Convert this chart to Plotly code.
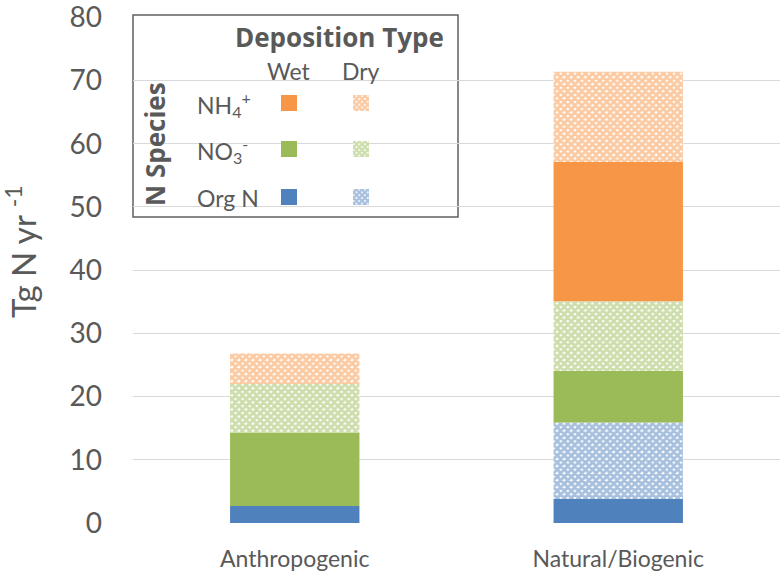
import plotly.graph_objects as go
import numpy as np

# ---------------- data ----------------
categories = ["Anthropogenic", "Natural/Biogenic"]
orgn_wet = [2.7, 3.8]
orgn_dry = [0.0, 12.1]
no3_wet = [11.6, 8.2]
no3_dry = [7.7, 11.0]
nh4_wet = [0.0, 22.0]
nh4_dry = [4.8, 14.3]
y_ticks = [0, 10, 20, 30, 40, 50, 60, 70, 80]
legend_species = ["NH<sub>4</sub><sup>+</sup>", "NO<sub>3</sub><sup>-</sup>", "Org N"]
legend_types = ["Wet", "Dry"]

# ---------------- styles ----------------
C_NH4 = "#F79646"
C_NO3 = "#9BBB59"
C_ORG = "#4F81BD"
TXT = "#595959"
FONT = "Lato"
W, H = 784, 577
L, R, T, B = 133, 4, 17, 54
PW, PH = W - L - R, H - T - B


def pxx(x):
    return (x - L) / PW


def pxy(y):
    return (H - B - y) / PH


series = [
    ("Org N wet", orgn_wet, C_ORG, False),
    ("Org N dry", orgn_dry, C_ORG, True),
    ("NO3 wet", no3_wet, C_NO3, False),
    ("NO3 dry", no3_dry, C_NO3, True),
    ("NH4 wet", nh4_wet, C_NH4, False),
    ("NH4 dry", nh4_dry, C_NH4, True),
]


def pattern(color, dry, size=5):
    if dry:
        return dict(shape="x", fgcolor=color, bgcolor="white", size=size, solidity=0.8)
    return dict(shape="")


fig = go.Figure()
base = np.zeros(len(categories))
for name, vals, color, dry in series:
    v = np.array(vals, dtype=float)
    fig.add_trace(go.Bar(
        x=categories, y=v, base=base.copy(), name=name,
        marker=dict(color=color if not dry else "white", line=dict(width=0),
                    pattern=pattern(color, dry)),
        width=0.4, showlegend=False, hoverinfo="skip",
    ))
    base = base + v

# ---------------- custom legend ----------------
box = dict(x0=133, x1=458, y0=15, y1=217)
fig.add_shape(type="rect", xref="paper", yref="paper",
              x0=pxx(box["x0"]), x1=pxx(box["x1"]), y0=pxy(box["y1"]), y1=pxy(box["y0"]),
              line=dict(color="#606060", width=1.5), fillcolor="white", layer="between")

row_y = [103, 149, 197]
col_x = [289, 361]
row_colors = [C_NH4, C_NO3, C_ORG]
sw = 16
for i, (lab, col) in enumerate(zip(legend_species, row_colors)):
    for j, dry in enumerate([False, True]):
        fig.add_trace(go.Bar(
            x=[col_x[j]], y=[sw], base=[row_y[i] - sw / 2], width=sw,
            xaxis="x2", yaxis="y2",
            marker=dict(color=col if not dry else "white", line=dict(width=0),
                        pattern=pattern(col, dry, 4)),
            showlegend=False, hoverinfo="skip",
        ))
    fig.add_annotation(xref="paper", yref="paper", x=pxx(195), y=pxy(row_y[i] + 1),
                       text=lab, showarrow=False, xanchor="left", yanchor="middle",
                       font=dict(family=FONT, size=23, color=TXT))

for j, t in enumerate(legend_types):
    fig.add_annotation(xref="paper", yref="paper", x=pxx(col_x[j]), y=pxy(71),
                       text=t, showarrow=False, xanchor="center", yanchor="middle",
                       font=dict(family=FONT, size=23, color=TXT))

fig.add_annotation(xref="paper", yref="paper", x=pxx(339), y=pxy(37),
                   text="<b>Deposition Type</b>", showarrow=False, xanchor="center", yanchor="middle",
                   font=dict(family="Open Sans", size=26, color=TXT))
fig.add_annotation(xref="paper", yref="paper", x=pxx(155), y=pxy(144),
                   text="<b>N Species</b>", showarrow=False, xanchor="center", yanchor="middle",
                   textangle=-90, font=dict(family="Open Sans", size=26, color=TXT))

# y-axis title
fig.add_annotation(xref="paper", yref="paper", x=pxx(21), y=pxy(252),
                   text="Tg N yr <sup>-1</sup>", showarrow=False, xanchor="center", yanchor="middle",
                   textangle=-90, font=dict(family=FONT, size=33, color=TXT))

fig.update_layout(
    width=W, height=H,
    margin=dict(l=L, r=R, t=T, b=B, autoexpand=False),
    paper_bgcolor="white", plot_bgcolor="white",
    barmode="overlay",
    font=dict(family=FONT, color=TXT),
    xaxis=dict(type="category", range=[-0.5, 1.5], showgrid=False, showline=False,
               ticks="", tickfont=dict(family=FONT, size=23, color=TXT),
               ticklabelstandoff=20, zeroline=False),
    yaxis=dict(range=[0, 80.05], tickvals=y_ticks, showgrid=True, gridcolor="#D9D9D9",
               gridwidth=1, zeroline=False, showline=False, ticks="",
               ticklabeloverflow="allow",
               tickfont=dict(family=FONT, size=28, color=TXT), ticklabelstandoff=30),
    xaxis2=dict(overlaying="x", range=[L, W - R], visible=False, domain=[0, 1]),
    yaxis2=dict(overlaying="y", range=[H - B, T], visible=False, anchor="x2"),
)

fig.write_html("out.html", config={"displayModeBar": False},
               post_script="document.body.style.margin='0';document.body.style.overflow='hidden';")
